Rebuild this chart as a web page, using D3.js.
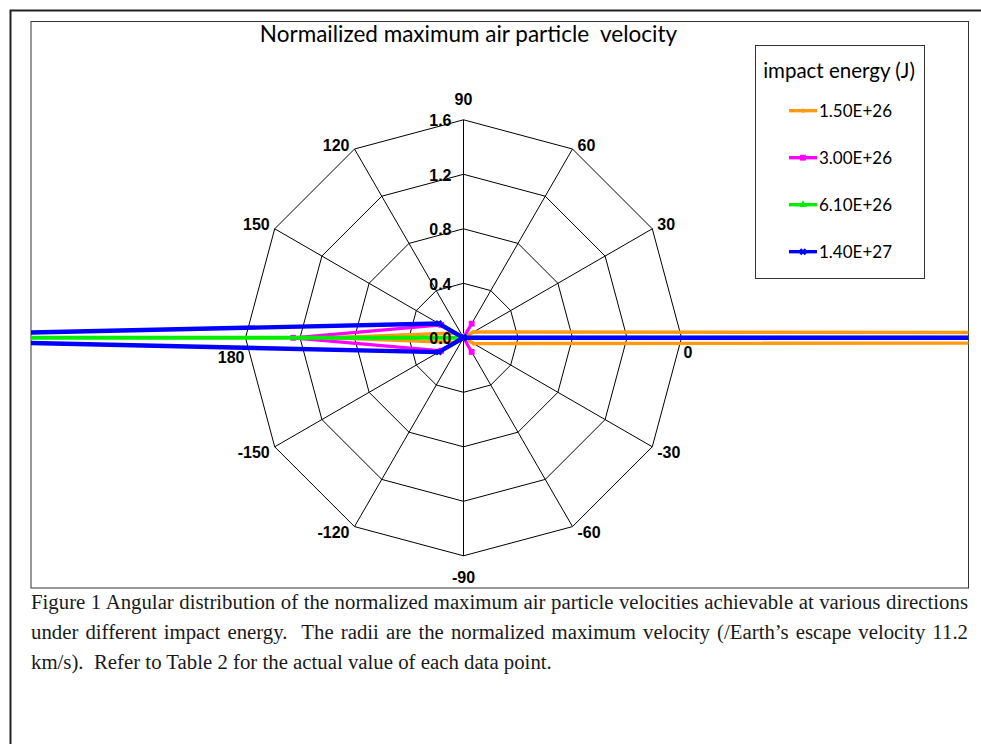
<!DOCTYPE html>
<html>
<head>
<meta charset="utf-8">
<script src="https://cdn.jsdelivr.net/npm/d3@7"></script>
<style>
  html, body { margin: 0; padding: 0; background: #fff; }
  svg { display: block; }
</style>
</head>
<body>
<svg id="chart" width="981" height="744"></svg>
<script>
// ---------- data ----------
const categories = ["90", "60", "30", "0", "-30", "-60", "-90", "-120", "-150", "180", "150", "120"];
const radialTicks = [0, 0.4, 0.8, 1.2, 1.6];
const radialTickLabels = ["0.0", "0.4", "0.8", "1.2", "1.6"];
const seriesNames = ["1.50E+26", "3.00E+26", "6.10E+26", "1.40E+27"];
const energy150 = [0, 0, 0.085, 40, 0.085, 0, 0, 0, 0.07, 0.97, 0.07, 0];
const energy300 = [0, 0.12, 0, 0, 0, 0.12, 0, 0, 0.19, 1.25, 0.19, 0];
const energy610 = [0, 0, 0, 10, 0, 0, 0, 0, 0, 4.2, 0, 0];
const energy1400 = [0, 0, 0, 10, 0, 0, 0, 0, 0.21, 4.9, 0.21, 0];
const titleText = "Normailized maximum air particle  velocity";
const legendTitle = "impact energy (J)";
const captionLines = [
  "Figure 1 Angular distribution of the normalized maximum air particle velocities achievable at various directions",
  "under different impact energy.  The radii are the normalized maximum velocity (/Earth\u2019s escape velocity 11.2",
  "km/s).  Refer to Table 2 for the actual value of each data point."
];

// ---------- styles ----------
const colors = ["#ff9a12", "#ff00ff", "#00ee00", "#0000ff"];
const widths = [3.4, 3.2, 4, 4.4];
const allSeries = [energy150, energy300, energy610, energy1400];

const svg = d3.select("#chart");
const cx = 463.5, cy = 337.8;
const box = {x: 31, y: 21.5, w: 937.5, h: 566.5};

const r = d3.scaleLinear().domain([0, 1.6]).range([0, 218]);
const a = d3.scaleLinear().domain([0, categories.length]).range([0, 2 * Math.PI]);

// outer frame
svg.append("path")
  .attr("d", `M10.5,744 L10.5,10.5 L981,10.5`)
  .attr("fill", "none").attr("stroke", "#222").attr("stroke-width", 2);

// chart box
svg.append("rect")
  .attr("x", box.x).attr("y", box.y).attr("width", box.w).attr("height", box.h)
  .attr("fill", "#fff").attr("stroke", "#333").attr("stroke-width", 1);

svg.append("defs").append("clipPath").attr("id", "clipBox")
  .append("rect").attr("x", box.x).attr("y", box.y).attr("width", box.w).attr("height", box.h);

// title
svg.append("text")
  .attr("x", 468.5).attr("y", 42)
  .attr("text-anchor", "middle")
  .style("white-space", "pre")
  .attr("font-family", "Lato, 'Noto Sans', sans-serif")
  .attr("font-size", 22.5)
  .attr("fill", "#000")
  .text(titleText);

const g = svg.append("g").attr("transform", `translate(${cx},${cy})`);

// grid rings
const ringLine = d3.lineRadial()
  .angle((d, i) => a(i))
  .radius(d => r(d))
  .curve(d3.curveLinearClosed);

radialTicks.filter(v => v > 0).forEach(v => {
  g.append("path")
    .attr("d", ringLine(categories.map(() => v)))
    .attr("fill", "none").attr("stroke", "#000").attr("stroke-width", 1);
});

// spokes
categories.forEach((c, i) => {
  const ang = a(i);
  g.append("line")
    .attr("x1", 0).attr("y1", 0)
    .attr("x2", Math.sin(ang) * r(1.6)).attr("y2", -Math.cos(ang) * r(1.6))
    .attr("stroke", "#000").attr("stroke-width", 1);
});

// category labels
categories.forEach((c, i) => {
  const ang = a(i);
  const sx = Math.sin(ang), sy = -Math.cos(ang);
  let x = sx * r(1.6), y = sy * r(1.6), anchor = "middle";
  if (i === 0) { y -= 20; }
  else if (i === 6) { y += 22; }
  else if (i === 3) { anchor = "start"; x += 2; y += 15; }
  else if (i === 9) { anchor = "end"; x -= 1; y += 19.5; }
  else {
    anchor = sx > 0 ? "start" : "end";
    x += sx > 0 ? 5 : -5;
    y += sy < 0 ? -4 : 6;
  }
  g.append("text")
    .attr("x", x).attr("y", y)
    .attr("text-anchor", anchor)
    .attr("dominant-baseline", "central")
    .attr("font-family", "'Liberation Sans', Arial, sans-serif")
    .attr("font-weight", "bold")
    .attr("font-size", 16)
    .attr("fill", "#000")
    .text(c);
});

// series (clipped to the chart box)
const clipG = svg.append("g").attr("clip-path", "url(#clipBox)");
const sg = clipG.append("g").attr("transform", `translate(${cx},${cy})`);

const seriesLine = d3.lineRadial()
  .angle((d, i) => a(i))
  .radius(d => r(d))
  .curve(d3.curveLinearClosed);

const symbols = [
  d3.symbol().type(d3.symbolCircle).size(14),
  d3.symbol().type(d3.symbolSquare).size(34),
  d3.symbol().type(d3.symbolTriangle).size(26),
  d3.symbol().type(d3.symbolCross).size(30)
];
const symRot = [0, 0, 0, 45];

allSeries.forEach((vals, s) => {
  sg.append("path")
    .attr("d", seriesLine(vals))
    .attr("fill", "none")
    .attr("stroke", colors[s])
    .attr("stroke-width", widths[s])
    .attr("stroke-linejoin", "miter")
    .attr("stroke-miterlimit", 2);
  vals.forEach((v, i) => {
    const ang = a(i);
    const px = Math.sin(ang) * r(v), py = -Math.cos(ang) * r(v);
    if (Math.abs(px) > 600 || Math.abs(py) > 400) return;
    sg.append("path")
      .attr("d", symbols[s]())
      .attr("transform", `translate(${px},${py}) rotate(${symRot[s]})`)
      .attr("fill", colors[s]);
  });
});

// radial tick labels (drawn on top of the series)
const tg = svg.append("g").attr("transform", `translate(${cx},${cy})`);
radialTicks.forEach((v, i) => {
  tg.append("text")
    .attr("x", -12).attr("y", -r(v) + 1)
    .attr("text-anchor", "end")
    .attr("dominant-baseline", "central")
    .attr("font-family", "'Liberation Sans', Arial, sans-serif")
    .attr("font-weight", "bold")
    .attr("font-size", 16)
    .attr("fill", "#000")
    .text(radialTickLabels[i]);
});

// legend
const lg = svg.append("g");
lg.append("rect")
  .attr("x", 755.5).attr("y", 45.5).attr("width", 169).attr("height", 233)
  .attr("fill", "#fff").attr("stroke", "#333").attr("stroke-width", 1);
lg.append("text")
  .attr("x", 839).attr("y", 70)
  .attr("text-anchor", "middle").attr("dominant-baseline", "central")
  .attr("font-family", "Lato, 'Noto Sans', sans-serif")
  .attr("font-size", 20.5)
  .attr("fill", "#000")
  .text(legendTitle);

const ly = d3.scaleLinear().domain([0, 3]).range([110.7, 251.7]);
seriesNames.forEach((name, s) => {
  const y = ly(s);
  lg.append("line")
    .attr("x1", 789).attr("x2", 817).attr("y1", y).attr("y2", y)
    .attr("stroke", colors[s]).attr("stroke-width", 3.4);
  lg.append("path")
    .attr("d", symbols[s]())
    .attr("transform", `translate(803,${y}) rotate(${symRot[s]})`)
    .attr("fill", colors[s]);
  lg.append("text")
    .attr("x", 819).attr("y", y)
    .attr("dominant-baseline", "central")
    .attr("font-family", "Lato, 'Noto Sans', sans-serif")
    .attr("font-size", 17)
    .attr("fill", "#000")
    .text(name);
});

// caption (justified lines)
const capG = svg.append("g");
const capLeft = 31, capRight = 968;
captionLines.forEach((line, i) => {
  const t = capG.append("text")
    .attr("x", capLeft).attr("y", 609 + i * 30)
    .style("white-space", "pre")
    .attr("font-family", "'Liberation Serif', 'Times New Roman', serif")
    .attr("font-size", 20.8)
    .attr("fill", "#1a1a1a")
    .text(line);
  if (i < captionLines.length - 1) {
    const w = t.node().getComputedTextLength();
    const gaps = (line.match(/ /g) || []).length;
    const extra = (capRight - capLeft - w) / gaps;
    t.style("word-spacing", extra + "px");
  }
});
</script>
</body>
</html>
